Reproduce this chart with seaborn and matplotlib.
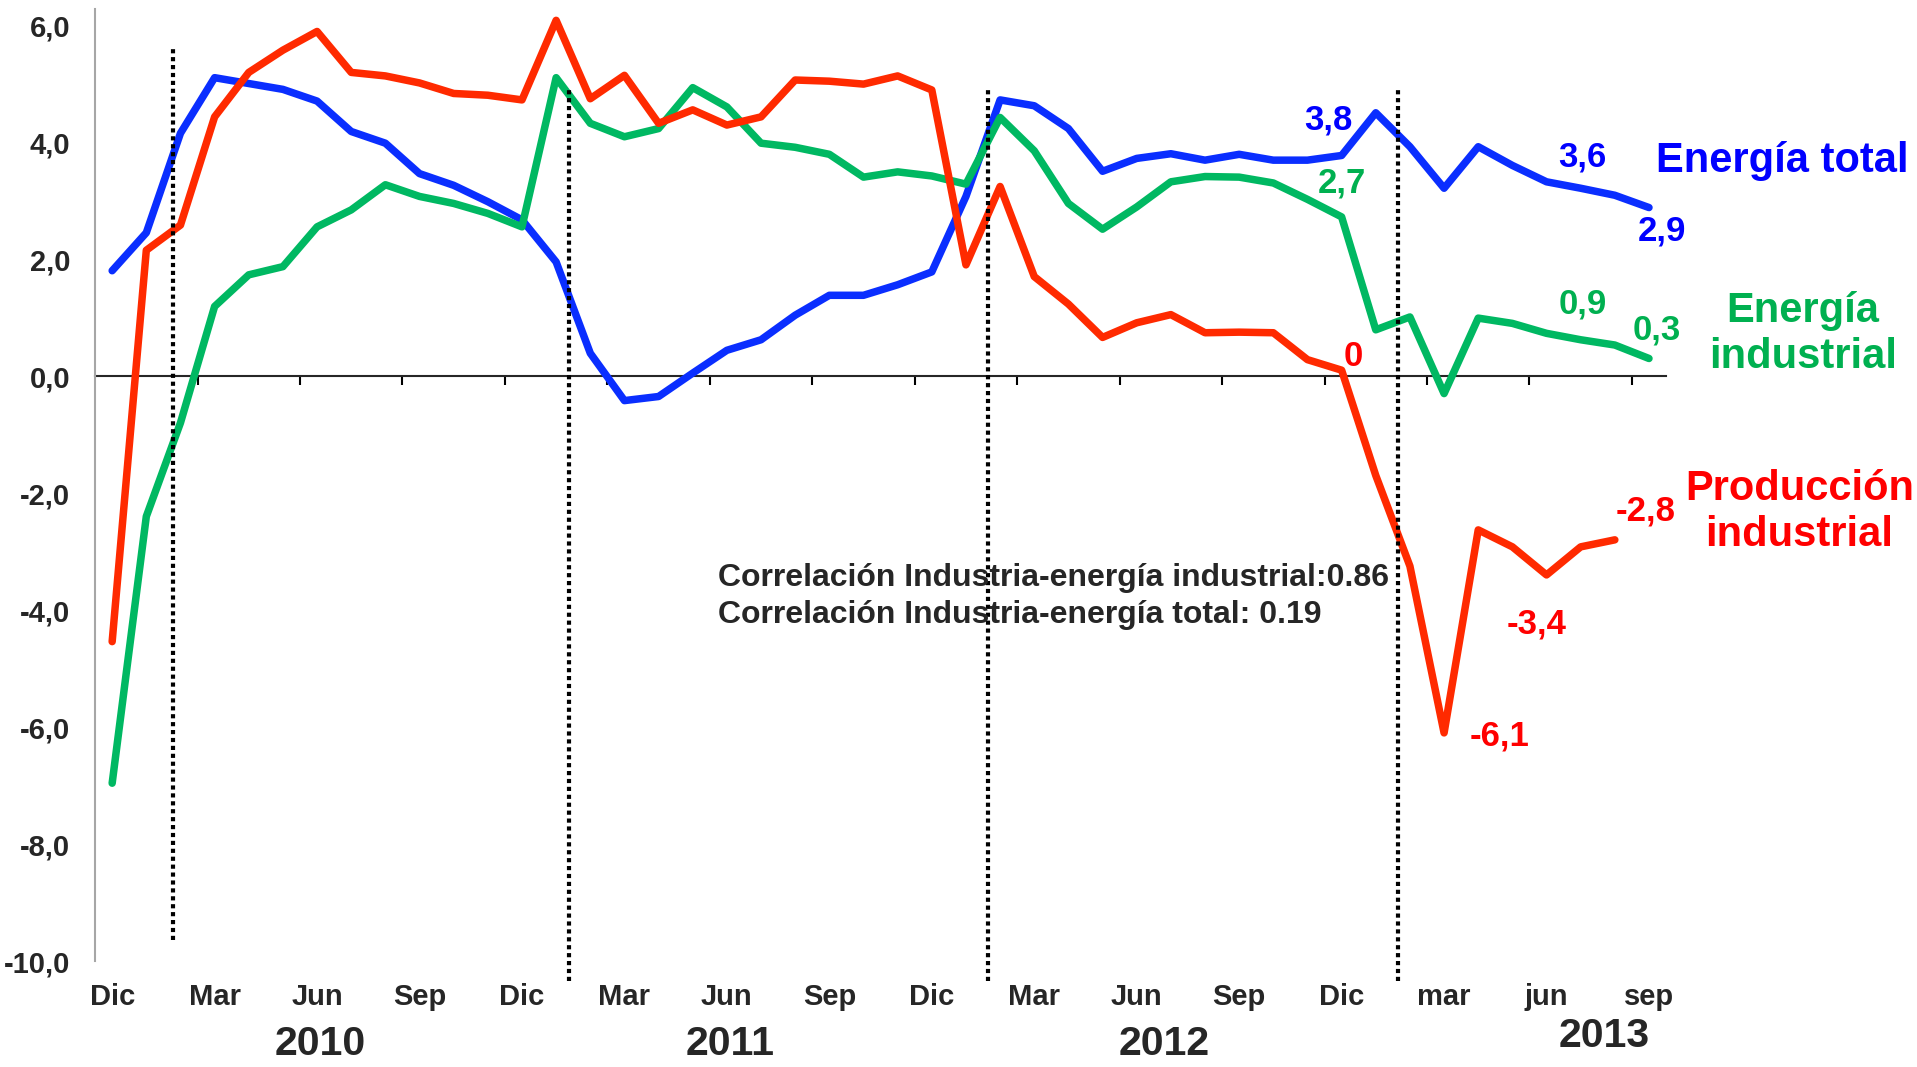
import matplotlib.pyplot as plt
import numpy as np
import pandas as pd
import seaborn as sns

# monthly rates, Dic 2009 -> Sep 2013
energia_total = [1.80, 2.45, 4.15, 5.10, 5.00, 4.90, 4.70, 4.18, 3.98, 3.46,
                 3.26, 2.98, 2.67, 1.95, 0.39, -0.42, -0.35, 0.05, 0.44, 0.62,
                 1.04, 1.38, 1.38, 1.56, 1.78, 3.07, 4.72, 4.62, 4.23, 3.50,
                 3.72, 3.80, 3.69, 3.79, 3.69, 3.69, 3.77, 4.50, 3.92, 3.21,
                 3.92, 3.60, 3.32, 3.21, 3.09, 2.88]
energia_industrial = [-6.96, -2.40, -0.80, 1.19, 1.73, 1.87, 2.55, 2.84, 3.27, 3.07,
                      2.95, 2.78, 2.55, 5.10, 4.32, 4.09, 4.23, 4.93, 4.60, 3.98,
                      3.91, 3.79, 3.40, 3.49, 3.42, 3.28, 4.42, 3.85, 2.95, 2.51,
                      2.89, 3.32, 3.41, 3.40, 3.30, 3.02, 2.72, 0.79, 1.01, -0.30,
                      0.99, 0.90, 0.73, 0.62, 0.53, 0.30]
produccion_industrial = [-4.54, 2.15, 2.58, 4.43, 5.19, 5.57, 5.89, 5.19, 5.13, 5.01,
                         4.83, 4.80, 4.72, 6.08, 4.74, 5.14, 4.32, 4.55, 4.29, 4.43,
                         5.06, 5.04, 4.99, 5.13, 4.89, 1.90, 3.24, 1.70, 1.23, 0.66,
                         0.91, 1.05, 0.74, 0.75, 0.74, 0.28, 0.10, -1.70, -3.25, -6.10,
                         -2.63, -2.92, -3.40, -2.92, -2.80, np.nan]

tick_labels = ['Dic', 'Mar', 'Jun', 'Sep', 'Dic', 'Mar', 'Jun', 'Sep',
               'Dic', 'Mar', 'Jun', 'Sep', 'Dic', 'mar', 'jun', 'sep']
years = ['2010', '2011', '2012', '2013']

series = ['Energía total', 'Energía industrial', 'Producción industrial']
line_colors = ['#0A2EFF', '#00B862', '#FF2A00']
text_colors = ['#0000FF', '#00B050', '#FF0000']

# value labels: text, series
value_labels = ['3,8', '2,7', '0', '3,6', '2,9', '0,9', '0,3', '-6,1', '-3,4', '-2,8']
value_series = [0, 1, 2, 0, 0, 1, 1, 2, 2, 2]

sns.set_style('white')
plt.rcParams['font.family'] = ['Liberation Sans', 'DejaVu Sans']
plt.rcParams['font.weight'] = 'bold'

n = len(energia_total)
mes = np.arange(n)
df = pd.DataFrame({'mes': mes,
                   series[0]: energia_total,
                   series[1]: energia_industrial,
                   series[2]: produccion_industrial})
long = df.melt(id_vars='mes', var_name='serie', value_name='valor').dropna()

fig = plt.figure(figsize=(19.17, 10.67), dpi=100)
ax = fig.add_axes([0.0496, 0.0993, 0.8195, 0.8926])

sns.lineplot(data=long, x='mes', y='valor', hue='serie', hue_order=series,
             palette=dict(zip(series, line_colors)), linewidth=5.4,
             legend=False, ax=ax)
for ln in ax.lines:
    ln.set_solid_joinstyle('round')
    ln.set_solid_capstyle('round')

ax.set_xlim(-0.5, n - 0.5)
ax.set_ylim(-10, 6.28)
yt = np.arange(-10, 7, 2)
ax.set_yticks(yt)
ax.set_yticklabels([f'{v:.1f}'.replace('.', ',') for v in yt])
ax.set_xticks(mes[::3])
ax.set_xticklabels(tick_labels)
ax.set_xlabel('')
ax.set_ylabel('')
ax.tick_params(axis='x', length=0, pad=16, labelsize=21)
ax.tick_params(axis='y', direction='out', length=6, width=1.3, color='#a6a6a6',
               pad=12, labelsize=21)
for s in ['top', 'right', 'bottom']:
    ax.spines[s].set_visible(False)
ax.spines['left'].set_color('#a6a6a6')
ax.spines['left'].set_linewidth(1.5)

# category axis crossing at zero
zero = ax.secondary_xaxis(0, transform=ax.transData)
zero.set_xticks(np.arange(2.5, n, 3))
zero.tick_params(length=6.5, width=1.5, color='black', labelbottom=False)
zero.spines['bottom'].set_linewidth(1.5)

# year separators
sep_x = [1.79, 13.37, 25.65, 37.65]
sep_top = [5.59, 4.92, 4.90, 4.90]
sep_bottom = [-9.64, -10.34, -10.34, -10.34]
ax.vlines(sep_x, sep_bottom, sep_top, colors='black',
          linestyles=(0, (1.0, 0.9)), linewidth=3.0, clip_on=False)

# year labels
year_x = [6.1, 18.1, 30.8, 43.7]
year_y = [-11.42, -11.42, -11.42, -11.28]
for t, x, y in zip(years, year_x, year_y):
    ax.text(x, y, t, fontsize=29.5, ha='center', va='center', clip_on=False)

# value labels
lab_x = [35.6, 36.0, 36.35, 43.06, 45.37, 43.06, 45.23, 40.63, 41.71, 44.9]
lab_y = [4.38, 3.30, 0.34, 3.74, 2.48, 1.23, 0.79, -6.15, -4.24, -2.31]
for t, k, x, y in zip(value_labels, value_series, lab_x, lab_y):
    ax.text(x, y, t, color=text_colors[k], fontsize=25, ha='center', va='center',
            clip_on=False)

# series names
name_txt = ['Energía total', 'Energía\nindustrial', 'Producción\nindustrial']
name_x = [48.89, 49.5, 49.4]
name_y = [3.68, 0.72, -2.32]
for k, (t, x, y) in enumerate(zip(name_txt, name_x, name_y)):
    ax.text(x, y, t, color=text_colors[k], fontsize=30, ha='center', va='center',
            linespacing=1.2, clip_on=False)

ax.text(17.73, -3.45, 'Correlación Industria-energía industrial:0.86',
        fontsize=23, ha='left', va='center')
ax.text(17.73, -4.09, 'Correlación Industria-energía total: 0.19',
        fontsize=23, ha='left', va='center')

fig.savefig('out.png', dpi=100)
